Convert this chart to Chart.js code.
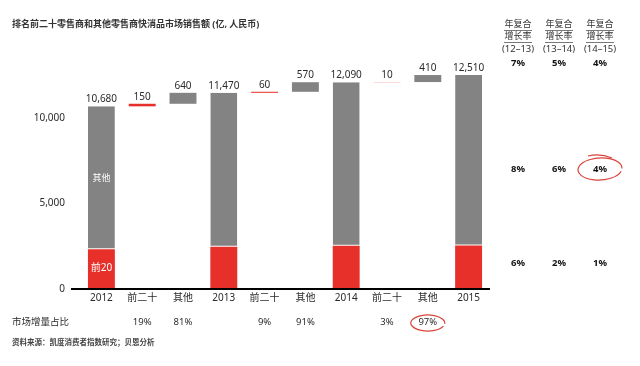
<!DOCTYPE html>
<html>
<head>
<meta charset="utf-8">
<script src="https://cdn.jsdelivr.net/npm/chart.js@4"></script>
<style>
  body { margin: 0; background: #fff; }
  #wrap { width: 640px; height: 366px; position: relative; }
</style>
</head>
<body>
<div id="wrap"><canvas id="salesChart"></canvas></div>
<script>
const categories = ['2012', '前二十', '其他', '2013', '前二十', '其他', '2014', '前二十', '其他', '2015'];
const yearTotals = [10680, 11470, 12090, 12510];
const yearTop20 = [2320, 2470, 2530, 2540];
const top20Gain = [150, 60, 10];
const otherGain = [640, 570, 410];
const incShare = ['', '19%', '81%', '', '9%', '91%', '', '3%', '97%', ''];

const cagrPeriods = ['(12–13)', '(13–14)', '(14–15)'];
const cagrTotal = ['7%', '5%', '4%'];
const cagrOther = ['8%', '6%', '4%'];
const cagrTop20 = ['6%', '2%', '1%'];

const RED = '#e8302a';
const GREY = '#838383';
const FONT = "'Noto Sans', 'Noto Sans CJK SC', sans-serif";
const TEXT = '#2b2b2b';

// build the waterfall as floating bars
const redData = [];
const greyData = [];
const topLabels = [];
yearTotals.forEach((total, i) => {
    redData.push([0, yearTop20[i]]);
    greyData.push([yearTop20[i], total]);
    topLabels.push(total.toLocaleString('en-US'));
    if (i < top20Gain.length) {
        const a = total + top20Gain[i];
        redData.push([total, a]);
        greyData.push(null);
        topLabels.push(String(top20Gain[i]));
        redData.push(null);
        greyData.push([a, yearTotals[i + 1]]);
        topLabels.push(String(otherGain[i]));
    }
});

const extras = {
    id: 'extras',
    afterDatasetsDraw(chart) {
        const ctx = chart.ctx;
        const red = chart.getDatasetMeta(0).data;
        const grey = chart.getDatasetMeta(1).data;
        ctx.save();
        ctx.textAlign = 'center';
        ctx.textBaseline = 'alphabetic';
        ctx.font = '10px ' + FONT;
        ctx.fillStyle = TEXT;
        categories.forEach((c, i) => {
            const el = greyData[i] ? grey[i] : red[i];
            ctx.fillText(topLabels[i], el.x, el.y - 4);
        });
        // segment labels in first bar
        ctx.fillStyle = '#fff';
        ctx.font = '9px ' + FONT;
        ctx.textBaseline = 'middle';
        ctx.fillText('其他', grey[0].x, 178);
        ctx.font = '10px ' + FONT;
        ctx.fillText('前20', red[0].x, 268);
        ctx.restore();
    },
    afterDraw(chart) {
        const ctx = chart.ctx;
        const x = chart.scales.x;
        const y = chart.scales.y;
        ctx.save();
        // base line
        ctx.strokeStyle = '#000';
        ctx.lineWidth = 2;
        ctx.beginPath();
        ctx.moveTo(71, y.getPixelForValue(0));
        ctx.lineTo(490, y.getPixelForValue(0));
        ctx.stroke();

        // title
        ctx.fillStyle = '#333';
        ctx.textBaseline = 'middle';
        ctx.textAlign = 'left';
        ctx.font = 'bold 9px ' + FONT;
        ctx.fillText('排名前二十零售商和其他零售商快消品市场销售额 (亿, 人民币)', 12, 24);

        // market increment share row
        ctx.font = '9.5px ' + FONT;
        ctx.fillStyle = TEXT;
        ctx.fillText('市场增量占比', 12, 322);
        ctx.textAlign = 'center';
        incShare.forEach((s, i) => {
            if (s) ctx.fillText(s, x.getPixelForValue(i), 322);
        });

        // source
        ctx.textAlign = 'left';
        ctx.font = 'bold 7.5px ' + FONT;
        ctx.fillStyle = '#444';
        ctx.fillText('资料来源：凯度消费者指数研究；贝恩分析', 12, 343);

        // CAGR table
        const cols = [518, 559, 600];
        ctx.textAlign = 'center';
        cols.forEach((cx, i) => {
            ctx.fillStyle = '#333';
            ctx.font = '9px ' + FONT;
            ctx.fillText('年复合', cx, 24);
            ctx.fillText('增长率', cx, 36);
            ctx.strokeStyle = '#555';
            ctx.lineWidth = 0.8;
            ctx.beginPath();
            ctx.moveTo(cx - 14, 30.5); ctx.lineTo(cx + 14, 30.5);
            ctx.moveTo(cx - 14, 42.5); ctx.lineTo(cx + 14, 42.5);
            ctx.stroke();
            ctx.font = '9.5px ' + FONT;
            ctx.fillText(cagrPeriods[i], cx, 49);
            ctx.fillStyle = '#111';
            ctx.font = 'bold 9.5px ' + FONT;
            ctx.fillText(cagrTotal[i], cx, 63);
            ctx.fillText(cagrOther[i], cx, 169);
            ctx.fillText(cagrTop20[i], cx, 263);
        });

        // hand-drawn red circles
        ctx.strokeStyle = '#d8453b';
        ctx.lineWidth = 1.2;
        ctx.beginPath();
        ctx.ellipse(600, 169, 22, 11, -0.05, 0.3, Math.PI * 2 + 0.05);
        ctx.stroke();
        ctx.beginPath();
        ctx.moveTo(588, 156);
        ctx.quadraticCurveTo(600, 153, 612, 158);
        ctx.stroke();
        ctx.beginPath();
        ctx.ellipse(x.getPixelForValue(8), 323, 17, 8, 0, 0.4, Math.PI * 2 + 0.1);
        ctx.stroke();
        ctx.restore();
    }
};

new Chart(document.getElementById('salesChart'), {
    type: 'bar',
    data: {
        labels: categories,
        datasets: [
            { label: '前二十', data: redData, backgroundColor: RED, borderWidth: 0 },
            {
                label: '其他', data: greyData, backgroundColor: GREY,
                borderColor: '#fff', borderSkipped: false,
                borderWidth: categories.map((c, i) => (i % 3 === 0 ? { bottom: 1, top: 0, left: 0, right: 0 } : 0))
            }
        ]
    },
    options: {
        responsive: true,
        maintainAspectRatio: false,
        animation: false,
        layout: { padding: { top: 41, right: 151, left: 0, bottom: 0 } },
        datasets: { bar: { barPercentage: 0.66, categoryPercentage: 1, grouped: false } },
        plugins: { legend: { display: false }, tooltip: { enabled: false } },
        scales: {
            x: {
                stacked: true,
                grid: { display: false, drawTicks: false },
                border: { display: false },
                ticks: { padding: 3, color: TEXT, font: { family: FONT, size: 10 } },
                afterFit: s => { s.height = 77; }
            },
            y: {
                stacked: false,
                min: 0,
                max: 14500,
                grid: { display: false, drawTicks: false },
                border: { display: false },
                ticks: {
                    padding: 16, color: TEXT, font: { family: FONT, size: 10 },
                    callback: v => v.toLocaleString('en-US')
                },
                afterBuildTicks: s => { s.ticks = [0, 5000, 10000].map(v => ({ value: v })); },
                afterFit: s => { s.width = 81; }
            }
        }
    },
    plugins: [extras]
});
</script>
</body>
</html>
